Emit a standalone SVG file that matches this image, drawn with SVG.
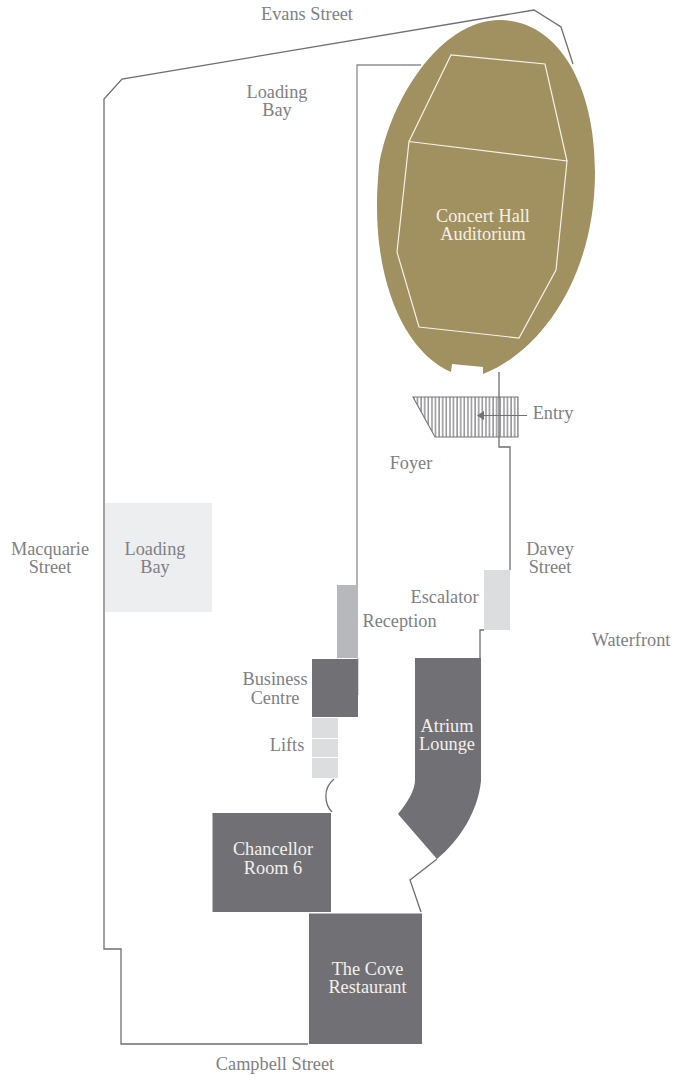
<svg xmlns="http://www.w3.org/2000/svg" width="674" height="1077" viewBox="0 0 674 1077">
<defs>
<pattern id="hatch" patternUnits="userSpaceOnUse" x="412" y="397" width="3.6" height="40">
<rect x="1.3" y="0" width="1.2" height="40" fill="#77777b"/>
</pattern>
</defs>
<style>
text{font-family:"Liberation Serif","Times New Roman",serif;font-size:18.3px;text-anchor:middle}
.l{fill:#808084}
.w{fill:#f3f1ec}
.wall{fill:none;stroke:#6f6e73;stroke-width:1.3}
.dark{fill:#717074}
.light{fill:#dcddde}
.in{fill:none;stroke:#f4f1e8;stroke-width:1.2}
</style>
<rect width="674" height="1077" fill="#fff"/>
<g id="connectors">
<path class="wall" d="M308 1044H121V949H104V99L122 79L534 10L561 27L573 64"/>
<path class="wall" stroke-opacity=".8" d="M421 65H357V585"/>
<path class="wall" d="M499 372V447H510V570"/>
<path class="wall" d="M484 630H480V658"/>
<path class="wall" stroke-opacity=".4" d="M358 658V695"/>
<path class="wall" stroke-width="1" d="M334 779C322 789 325 805 332 812"/>
<path class="wall" d="M437 859L410 880L421 912"/>
</g>
<g id="foyer">
<path fill="url(#hatch)" stroke="#77777b" stroke-width="1.1" d="M413 397H518V437H435Z"/>
<path stroke="#717074" stroke-width="1.2" d="M527 415.500H480"/>
<path fill="#717074" d="M477 415.500L484 411V420Z"/>
<text class="l" x="553" y="418.500">Entry</text>
<text class="l" x="411" y="468.500">Foyer</text>
</g>
<g id="auditorium">
<path fill="#a19060" d="M500 20C555 20 595 80 595 172C595 278 540 352 483 374L483 367L452 364L451 372C405 352 377 285 377 207C377 190 378 178 379 166C390 100 440 20 500 20Z"/>
<path class="in" d="M409 141.500L451 55L545 64L567 161M409 141.500L567 161L556 270L519 338L419 327L397 252Z"/>
<text class="w"><tspan x="483" y="221.500">Concert Hall</tspan><tspan x="483" y="239.500">Auditorium</tspan></text>
</g>
<g id="loading-bay-upper"><text class="l"><tspan x="277" y="97.500">Loading</tspan><tspan x="277" y="115.500">Bay</tspan></text></g>
<g id="loading-bay-lower">
<rect x="105" y="503" width="107" height="109" fill="#edeeef"/>
<text class="l"><tspan x="155" y="554.500">Loading</tspan><tspan x="155" y="572.500">Bay</tspan></text>
</g>
<g id="reception">
<rect x="337" y="585" width="21" height="73" fill="#b7b8bb"/>
<text class="l" x="399.500" y="626.500">Reception</text>
</g>
<g id="business-centre">
<rect x="312" y="659" width="46" height="58" class="dark"/>
<text class="l"><tspan x="275" y="684.500">Business</tspan><tspan x="275" y="703.500">Centre</tspan></text>
</g>
<g id="lifts">
<rect x="312" y="718" width="26" height="20" class="light"/>
<rect x="312" y="739" width="26" height="18" class="light"/>
<rect x="312" y="758" width="26" height="20" class="light"/>
<text class="l" x="287" y="750.500">Lifts</text>
</g>
<g id="escalator">
<rect x="484" y="570" width="26" height="60" class="light"/>
<text class="l" x="444.500" y="602.500">Escalator</text>
</g>
<g id="atrium-lounge">
<path class="dark" d="M415 658H481V781C478 811 460 840 437 859L398 814C408 802 415 790 415 780Z"/>
<text class="w"><tspan x="447" y="731.500">Atrium</tspan><tspan x="447" y="749.500">Lounge</tspan></text>
</g>
<g id="chancellor-room">
<rect x="212.500" y="813" width="118.500" height="99" class="dark"/>
<text class="w"><tspan x="273" y="854.500">Chancellor</tspan><tspan x="273" y="873.500">Room 6</tspan></text>
</g>
<g id="cove-restaurant">
<rect x="309" y="913.500" width="113" height="130.500" class="dark"/>
<text class="w"><tspan x="367.500" y="974.500">The Cove</tspan><tspan x="367.500" y="992.500">Restaurant</tspan></text>
</g>
<g id="streets">
<text class="l" x="307" y="20">Evans Street</text>
<text class="l"><tspan x="50" y="554.500">Macquarie</tspan><tspan x="50" y="572.500">Street</tspan></text>
<text class="l"><tspan x="550" y="554.500">Davey</tspan><tspan x="550" y="572.500">Street</tspan></text>
<text class="l" x="631" y="645.500">Waterfront</text>
<text class="l" x="275" y="1069.500">Campbell Street</text>
</g>
</svg>
